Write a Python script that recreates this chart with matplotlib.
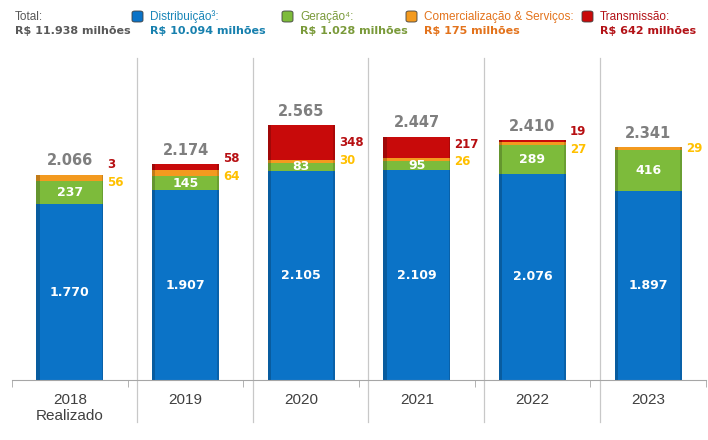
import matplotlib

matplotlib.use("Agg")
import matplotlib.pyplot as plt
from matplotlib.patches import FancyBboxPatch
from matplotlib.lines import Line2D
import matplotlib.transforms as mtransforms
import numpy as np

# data (R$ milhões)
years = ["2018\nRealizado", "2019", "2020", "2021", "2022", "2023"]
distribuicao = [1770, 1907, 2105, 2109, 2076, 1897]
geracao = [237, 145, 83, 95, 289, 416]
comercializacao = [56, 64, 30, 26, 27, 29]
transmissao = [3, 58, 348, 217, 19, 0]
totals = [2066, 2174, 2565, 2447, 2410, 2341]

BLUE = "#0B73C7"
GREEN = "#7DBB3B"
ORANGE = "#F39A1F"
RED = "#C80A0A"
GRAY_TXT = "#7F7F7F"
LBL_RED = "#B70F12"
LBL_GOLD = "#FFC000"

BOLD = "DejaVu Sans"
REG = "Liberation Sans"


def fmt(v):
    return "{:,}".format(v).replace(",", ".")


fig = plt.figure(figsize=(7.08, 4.40), dpi=100, facecolor="white")
ax = fig.add_axes([12 / 708, 60 / 440, 694 / 708, 320 / 440])
ax.set_xlim(-0.5, 5.5)
ax.set_ylim(0, 3220)

x = np.arange(len(years))
width = 0.58
d = np.array(distribuicao)
g = np.array(geracao)
c = np.array(comercializacao)
t = np.array(transmissao)

ax.bar(x, d, width, color=BLUE, zorder=2)
ax.bar(x, g, width, bottom=d, color=GREEN, zorder=2)
ax.bar(x, c, width, bottom=d + g, color=ORANGE, zorder=2)
ax.bar(x, t, width, bottom=d + g + c, color=RED, zorder=2)

# darker edges for a bit of depth
stack = d + g + c + t
ax.bar(x - width / 2 + 0.014, stack, 0.028, color="#000000", alpha=0.2, zorder=3, linewidth=0)
ax.bar(x + width / 2 - 0.008, stack, 0.016, color="#000000", alpha=0.15, zorder=3, linewidth=0)

for i in range(len(years)):
    ax.text(x[i], d[i] / 2, fmt(distribuicao[i]), ha="center", va="center",
            color="white", fontsize=9, fontweight="bold", family=BOLD, zorder=4)
    ax.text(x[i], d[i] + g[i] / 2, fmt(geracao[i]), ha="center", va="center",
            color="white", fontsize=9, fontweight="bold", family=BOLD, zorder=4)
    top = stack[i]
    ax.text(x[i], top + 140, fmt(totals[i]), ha="center", va="center",
            color=GRAY_TXT, fontsize=10.5, fontweight="bold", family=BOLD, zorder=4)
    xr = x[i] + width / 2 + 0.035
    y_red = top - 0.8 * t[i] + 100
    if t[i] > 0:
        ax.text(xr, y_red, fmt(transmissao[i]), ha="left", va="center",
                color=LBL_RED, fontsize=8.5, fontweight="bold", family=BOLD, zorder=4)
        y_or = y_red - 175
    else:
        y_or = top - 10
    ax.text(xr, y_or, fmt(comercializacao[i]), ha="left", va="center",
            color=LBL_GOLD, fontsize=8.5, fontweight="bold", family=BOLD, zorder=4)

for s in ("top", "right", "left"):
    ax.spines[s].set_visible(False)
ax.spines["bottom"].set_color("#A6A6A6")
ax.set_yticks([])
ax.set_xticks(x)
ax.set_xticklabels(years, fontsize=11, color="#404040", family=REG, linespacing=1.25)
ax.tick_params(axis="x", which="major", length=0, pad=9)
ax.set_xticks(np.arange(-0.5, 6.0, 1.0), minor=True)
ax.tick_params(axis="x", which="minor", length=5, color="#A6A6A6", direction="out")

# light vertical separators between years
trans = mtransforms.blended_transform_factory(ax.transData, fig.transFigure)
for b in np.arange(0.5, 5.0, 1.0):
    ax.add_line(Line2D([b + 0.08, b + 0.08], [1 - 58 / 440, 1 - 422 / 440],
                       transform=trans, color="#C8C8C8", linewidth=0.9,
                       clip_on=False, zorder=1))

# header legend
fig.text(15 / 708, 1 - 17 / 440, "Total:", ha="left", va="center",
         color="#595959", fontsize=8.5, family=REG)
fig.text(15 / 708, 1 - 31 / 440, "R$ 11.938 milhões", ha="left", va="center",
         color="#595959", fontsize=8, fontweight="bold", family=BOLD)

legend_items = [
    (137, "Distribuição³:", "R$ 10.094 milhões", BLUE, "#1A86B8", "#1780AE"),
    (287, "Geração⁴:", "R$ 1.028 milhões", GREEN, "#7A9A3A", "#7A9A3A"),
    (411, "Comercialização & Serviços:", "R$ 175 milhões", ORANGE, "#E3731C", "#E3731C"),
    (587, "Transmissão:", "R$ 642 milhões", RED, "#B31217", "#B31217"),
]
for px, name, val, fc, c1, c2 in legend_items:
    box = FancyBboxPatch(((px - 5) / 708, 1 - 22 / 440), 11 / 708, 11 / 440,
                         boxstyle="round,pad=0,rounding_size=0.004",
                         transform=fig.transFigure, facecolor=fc,
                         edgecolor="#404040", linewidth=0.6)
    fig.patches.append(box)
    fig.text((px + 13) / 708, 1 - 17 / 440, name, ha="left", va="center",
             color=c1, fontsize=8.5, family=REG)
    fig.text((px + 13) / 708, 1 - 31 / 440, val, ha="left", va="center",
             color=c2, fontsize=8, fontweight="bold", family=BOLD)

fig.savefig("out.png", dpi=100, facecolor="white")
